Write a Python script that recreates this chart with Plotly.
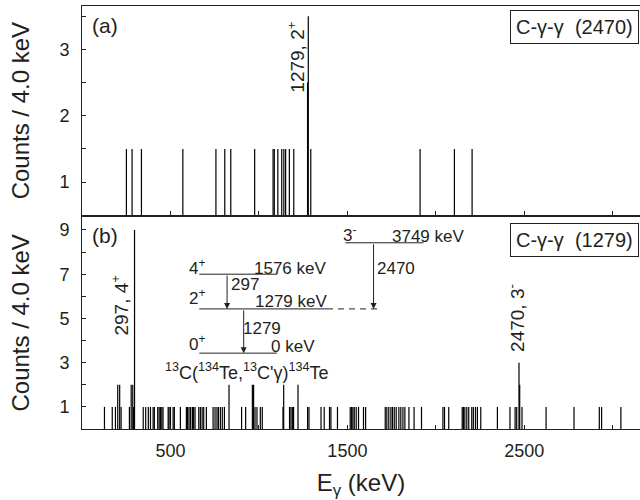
import plotly.graph_objects as go

# ---------------- data ----------------
# panel (a): gate on 2470 keV
energy_a = [251, 283, 336, 570, 757, 807, 841, 976, 1080, 1087, 1107, 1129, 1141,
            1151, 1172, 1197, 1275, 1279, 1293, 1911, 2105, 2205]
counts_a = [1.5, 1.5, 1.5, 1.5, 1.5, 1.5, 1.5, 1.5, 1.5, 1.5, 1.5, 1.5, 1.5,
            1.5, 1.5, 1.5, 2.5, 3.5, 1.5, 1.5, 1.5, 1.5]

# panel (b): gate on 1279 keV
energy_b = [127, 171, 189, 202, 213, 221, 268, 278, 287, 292, 297, 346, 360, 375,
            387, 402, 409, 428, 436, 443, 451, 458, 487, 492, 500, 515, 522, 556,
            590, 597, 605, 614, 624, 631, 639, 660, 669, 679, 688, 703, 741, 752,
            763, 771, 782, 793, 805, 831, 902, 925, 963, 970, 978, 989, 1008, 1019,
            1136, 1140, 1173, 1181, 1189, 1196, 1221, 1275, 1283, 1351, 1369, 1399,
            1407, 1444, 1516, 1524, 1531, 1539, 1550, 1563, 1591, 1603, 1714, 1723,
            1734, 1746, 1755, 1765, 1776, 1791, 1802, 1814, 1825, 1848, 1877, 1919,
            2040, 2049, 2073, 2149, 2156, 2164, 2175, 2186, 2203, 2212, 2224, 2235,
            2254, 2348, 2419, 2448, 2457, 2470, 2474, 2487, 2623, 2781, 2924, 2937,
            3046]
counts_b = [1, 1, 1, 2, 2, 1, 1, 2, 2, 1, 9, 1, 1, 1,
            1, 1, 1, 1, 1, 1, 1, 1, 1, 1, 1, 1, 1, 1,
            1, 1, 1, 1, 1, 1, 1, 1, 1, 1, 1, 1, 1, 1,
            1, 1, 1, 1, 1, 2, 1, 1, 2, 2, 1, 1, 1, 1,
            1, 2, 1, 1, 1, 1, 2, 1, 1, 1, 1, 1,
            1, 1, 1, 1, 1, 1, 1, 1, 1, 1, 1, 1,
            1, 1, 1, 1, 1, 1, 1, 1, 1, 1, 1, 1,
            1, 1, 1, 1, 1, 1, 1, 1, 1, 1, 1, 1,
            1, 1, 1, 1, 1, 3, 2, 1, 1, 1, 1, 1,
            1]

x_tickvals = [500, 1500, 2500]
x_ticktext = ["500", "1500", "2500"]
x_minorvals = [1000, 2000, 3000]
ya_tickvals = [1, 2, 3]
ya_ticktext = ["1", "2", "3"]
ya_minorvals = [1.5, 2.5, 3.5]
yb_tickvals = [1, 3, 5, 7, 9]
yb_ticktext = ["1", "3", "5", "7", "9"]
yb_minorvals = [2, 4, 6, 8]


def sticks(xs, ys, base=0):
    px, py = [], []
    for e, c in zip(xs, ys):
        px += [e, e, None]
        py += [base, c, None]
    return px, py


FONT = "Liberation Sans, Arial, Helvetica, sans-serif"
INK = "#231f20"

fig = go.Figure()
xa, ya = sticks(energy_a, counts_a)
fig.add_trace(go.Scatter(x=xa, y=ya, mode="lines", line=dict(color="black", width=1.2),
                         xaxis="x", yaxis="y", showlegend=False, hoverinfo="skip"))
xb, yb = sticks(energy_b, counts_b)
fig.add_trace(go.Scatter(x=xb, y=yb, mode="lines", line=dict(color="black", width=1.2),
                         xaxis="x2", yaxis="y2", showlegend=False, hoverinfo="skip"))

xrange = [0, 3154]
axis_common = dict(showline=True, linecolor=INK, linewidth=1, ticks="inside",
                   ticklen=4, tickwidth=1, tickcolor=INK, showgrid=False,
                   zeroline=False, tickfont=dict(family=FONT, size=18, color=INK))
minor_common = dict(ticks="inside", ticklen=4, tickwidth=1, tickcolor=INK, showgrid=False)

fig.update_layout(
    width=640, height=500,
    margin=dict(l=81.5, r=0, t=5.7, b=70.7),
    plot_bgcolor="white", paper_bgcolor="white",
    font=dict(family=FONT, color=INK),
    xaxis=dict(axis_common, domain=[0, 1], anchor="y", range=xrange, mirror=True,
               tickvals=x_tickvals, ticktext=x_ticktext, showticklabels=False,
               minor=dict(minor_common, tickvals=x_minorvals)),
    yaxis=dict(axis_common, domain=[0.5052, 1], anchor="x", range=[0.5, 3.655],
               tickvals=ya_tickvals, ticktext=ya_ticktext, ticklabelstandoff=8,
               minor=dict(minor_common, tickvals=ya_minorvals),
               title=dict(text="Counts / 4.0 keV", font=dict(size=24, family=FONT, color=INK),
                          standoff=22)),
    xaxis2=dict(axis_common, domain=[0, 1], anchor="y2", range=xrange, mirror=True,
                tickvals=x_tickvals, ticktext=x_ticktext, ticklabelstandoff=5,
                minor=dict(minor_common, tickvals=x_minorvals),
                title=dict(text="E<sub>γ</sub> (keV)", font=dict(size=24, family=FONT, color=INK),
                           standoff=14)),
    yaxis2=dict(axis_common, domain=[0, 0.5019], anchor="x2", range=[0, 9.6],
                tickvals=yb_tickvals, ticktext=yb_ticktext, ticklabelstandoff=8,
                minor=dict(minor_common, tickvals=yb_minorvals),
                title=dict(text="Counts / 4.0 keV", font=dict(size=24, family=FONT, color=INK),
                           standoff=22)),
)

ann = []
tf = dict(family=FONT, size=19, color=INK)
bf = dict(family=FONT, size=20, color=INK)
# panel labels
ann.append(dict(text="(a)", xref="x domain", yref="y domain", x=0.015, y=0.97,
                xanchor="left", yanchor="top", showarrow=False, font=dict(family=FONT, size=21, color=INK)))
ann.append(dict(text="(b)", xref="x2 domain", yref="y2 domain", x=0.015, y=0.975,
                xanchor="left", yanchor="top", showarrow=False, font=dict(family=FONT, size=21, color=INK)))
# gate boxes
ann.append(dict(text="C-γ-γ  (2470)", xref="x domain", yref="y domain", x=0.9975, y=0.983,
                xanchor="right", yanchor="top", showarrow=False, font=bf,
                bordercolor=INK, borderwidth=1, borderpad=5, bgcolor="white"))
ann.append(dict(text="C-γ-γ  (1279)", xref="x2 domain", yref="y2 domain", x=0.9975, y=0.972,
                xanchor="right", yanchor="top", showarrow=False, font=bf,
                bordercolor=INK, borderwidth=1, borderpad=5, bgcolor="white"))
# peak labels
ann.append(dict(text="1279, 2<sup>+</sup>", xref="x", yref="y", x=1211, y=2.88, textangle=-90,
                showarrow=False, font=tf))
ann.append(dict(text="297, 4<sup>+</sup>", xref="x2", yref="y2", x=217, y=5.6, textangle=-90,
                showarrow=False, font=tf))
ann.append(dict(text="2470, 3<sup>-</sup>", xref="x2", yref="y2", x=2456, y=5.0, textangle=-90,
                showarrow=False, font=tf))


# level scheme text
def t(text, x, y, size=17):
    ann.append(dict(text=text, xref="x2", yref="y2", x=x, y=y, showarrow=False,
                    font=dict(family=FONT, size=size, color=INK)))


t("4<sup>+</sup>", 649, 7.33)
t("1576 keV", 1177, 7.28)
t("297", 923, 6.52)
t("2<sup>+</sup>", 649, 5.97)
t("1279 keV", 1180, 5.76)
t("1279", 1017, 4.56)
t("0<sup>+</sup>", 649, 3.90)
t("0 keV", 1191, 3.73)
t("<sup>13</sup>C(<sup>134</sup>Te,<sup>13</sup>C'γ)<sup>134</sup>Te", 932, 2.62, 18)
t("3<sup>-</sup>", 1510, 8.82)
t("3749 keV", 1954, 8.70)
t("2470", 1776, 7.27)


# arrows (transitions)
def arrow(x, y0, y1):
    ann.append(dict(text="", xref="x2", yref="y2", axref="x2", ayref="y2",
                    x=x, y=y1, ax=x, ay=y0, showarrow=True, arrowhead=2,
                    arrowsize=1.2, arrowwidth=1, arrowcolor=INK, standoff=0, startstandoff=0))


arrow(820, 7.0, 5.43)
arrow(914, 5.43, 3.43)
arrow(1648, 8.42, 5.43)
fig.update_layout(annotations=ann)


# level lines
def level(x0, x1, y, dash="solid"):
    fig.add_shape(type="line", xref="x2", yref="y2", x0=x0, x1=x1, y0=y, y1=y,
                  line=dict(color=INK, width=1, dash=dash))


level(663, 1385, 5.43)
level(663, 1102, 7.0)
level(1385, 1676, 5.43, "6px,5px")
level(663, 1102, 3.43)
level(1488, 1930, 8.42)

fig.write_html("out.html", config={"displayModeBar": False},
               post_script="document.body.style.margin='0';")
